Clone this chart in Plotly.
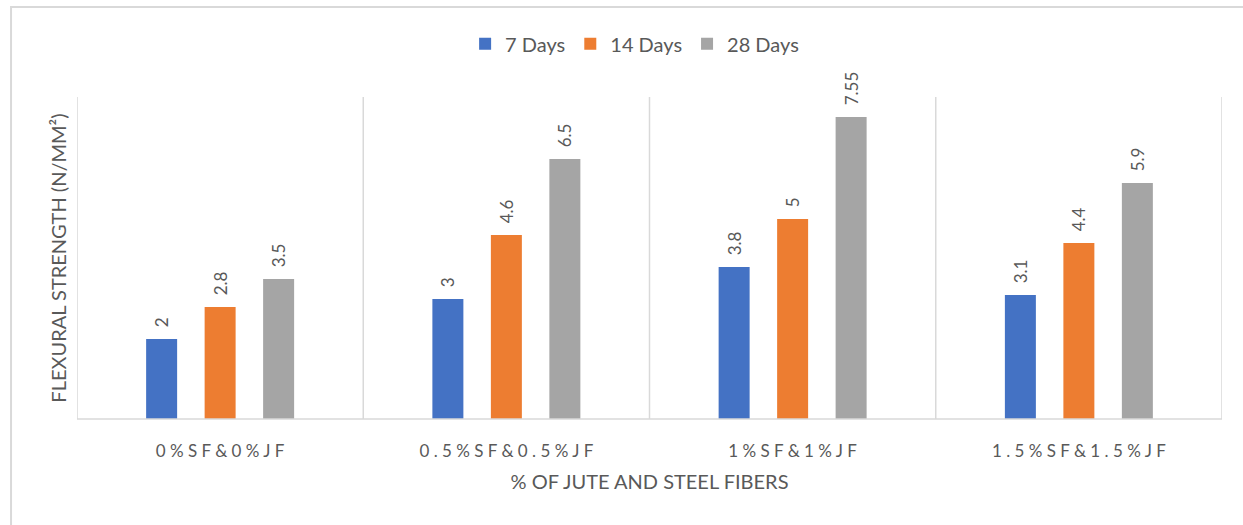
import plotly.graph_objects as go

categories = ["0%SF&0%JF", "0.5%SF&0.5%JF", "1%SF&1%JF", "1.5%SF&1.5%JF"]
series_names = ["7 Days", "14 Days", "28 Days"]
days_7 = [2, 3, 3.8, 3.1]
days_14 = [2.8, 4.6, 5, 4.4]
days_28 = [3.5, 6.5, 7.55, 5.9]
colors = ["#4472C4", "#ED7D31", "#A5A5A5"]

TEXT = "#595959"
GRID = "#D9D9D9"
FONT = "Lato, 'Open Sans', sans-serif"
GAP = "\u00a0"  # wide tracking between label characters


def spaced(s):
    return GAP.join(s)


tick_text = [spaced(c) for c in categories]

fig = go.Figure()
for name, vals, col in zip(series_names, [days_7, days_14, days_28], colors):
    fig.add_trace(go.Bar(
        name=name,
        x=categories,
        y=vals,
        marker=dict(color=col, line=dict(width=0)),
        # leading padding lifts the rotated label off the bar top
        text=["\u00a0\u00a0" + f"{v:g}" for v in vals],
        textposition="outside",
        textangle=-90,
        constraintext="none",
        textfont=dict(family=FONT, size=17, color=TEXT),
        cliponaxis=False,
    ))

# vertical category separators and plot edges
shapes = []
for xv in [-0.5, 0.5, 1.5, 2.5, 3.5]:
    shapes.append(dict(type="line", xref="x", yref="paper", x0=xv, x1=xv, y0=0, y1=1,
                       line=dict(color=GRID, width=1.5)))
shapes.append(dict(type="line", xref="paper", yref="paper", x0=0, x1=1, y0=0, y1=0,
                   line=dict(color=GRID, width=1.5)))
# outer chart frame
shapes.append(dict(type="rect", xref="paper", yref="paper",
                   x0=-0.0576, x1=1.2, y0=-0.6, y1=1.2795,
                   line=dict(color=GRID, width=2), layer="below"))

fig.update_layout(
    width=1243, height=525,
    margin=dict(l=77, r=21, t=97, b=106),
    paper_bgcolor="white", plot_bgcolor="white",
    barmode="group", bargap=0.387, bargroupgap=0.47,
    font=dict(family=FONT, color=TEXT, size=14),
    showlegend=True,
    legend=dict(orientation="h", x=0.487, xanchor="center", y=1.165, yanchor="middle",
                font=dict(family=FONT, size=20, color=TEXT), itemwidth=30,
                bgcolor="rgba(0,0,0,0)", traceorder="normal"),
    xaxis=dict(
        tickmode="array", tickvals=categories, ticktext=tick_text,
        tickfont=dict(family=FONT, size=17, color=TEXT),
        showgrid=False, zeroline=False, showline=False,
        ticks="outside", ticklen=17, tickcolor="rgba(0,0,0,0)",
        title=dict(text="% OF JUTE AND STEEL FIBERS", font=dict(family=FONT, size=20, color=TEXT),
                   standoff=14),
        range=[-0.5, 3.5],
    ),
    yaxis=dict(
        range=[0, 8.05], showticklabels=False, showgrid=False, zeroline=False,
        showline=False, ticks="",
        title=dict(text="FLEXURAL STRENGTH (N/MM²)", font=dict(family=FONT, size=20, color=TEXT),
                   standoff=4),
    ),
    shapes=shapes,
)

fig.write_html("out.html")
